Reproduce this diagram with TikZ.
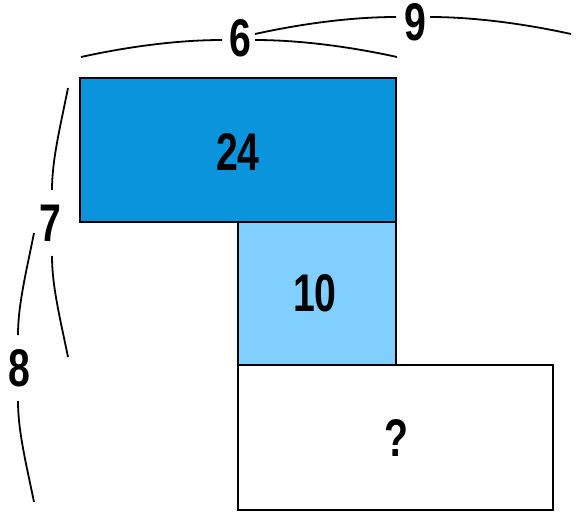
\documentclass[tikz,border=0pt]{standalone}
\usepackage{fontspec}
\newfontfamily\digitfont{Liberation Sans}[FakeStretch=0.74]
\definecolor{darkblue}{HTML}{0A94DC}
\definecolor{lightblue}{HTML}{80CFFF}
\begin{document}
\begin{tikzpicture}[x=1pt,y=-1pt,
  box/.style={draw=black,line width=2.6pt},
  lbl/.style={font=\digitfont\bfseries\fontsize{53}{53}\selectfont,inner sep=0pt,text=black},
  brace/.style={draw=black,line width=1.8pt}]
\useasboundingbox (0,0) rectangle (583,520);
% rectangles
\path[box,fill=darkblue] (80,78) rectangle (396,222);
\path[box,fill=lightblue] (238,222) rectangle (396,365);
\path[box,fill=white] (238,365) rectangle (553,510);
% labels in the rectangles
\node[lbl] (t24) at (238,151.5) {24};
\node[lbl] (t10) at (315,293.5) {10};
\node[lbl] (tq) at (396,438) {?};
% dimension labels
\node[lbl] (t6) at (240,38) {6};
\node[lbl] (t9) at (415,22) {9};
\node[lbl] (t7) at (50,223) {7};
\node[lbl] (t8) at (19.5,368) {8};
% named ends of the braces
\coordinate (a6l) at (81,57);   \coordinate (g6l) at (222,40);
\coordinate (g6r) at (255,40);  \coordinate (a6r) at (397,57);
\coordinate (a9l) at (255,34);  \coordinate (g9l) at (396,17);
\coordinate (g9r) at (430,17);  \coordinate (a9r) at (571,34);
\coordinate (a7t) at (68,88);   \coordinate (g7t) at (52,190);
\coordinate (g7b) at (52,256);  \coordinate (a7b) at (68,357);
\coordinate (a8t) at (34,233);  \coordinate (g8t) at (18,335);
\coordinate (g8b) at (18,401);  \coordinate (a8b) at (34,502);
% braces
\path[brace] (a6l) .. controls (131,46) and (180,40) .. (g6l);
\path[brace] (g6r) .. controls (297,40) and (347,46) .. (a6r);
\path[brace] (a9l) .. controls (305,23) and (354,17) .. (g9l);
\path[brace] (g9r) .. controls (471,17) and (521,23) .. (a9r);
\path[brace] (a7t) .. controls (60,128) and (52,160) .. (g7t);
\path[brace] (g7b) .. controls (52,286) and (60,318) .. (a7b);
\path[brace] (a8t) .. controls (26,273) and (18,305) .. (g8t);
\path[brace] (g8b) .. controls (18,431) and (26,463) .. (a8b);
\end{tikzpicture}
\end{document}
